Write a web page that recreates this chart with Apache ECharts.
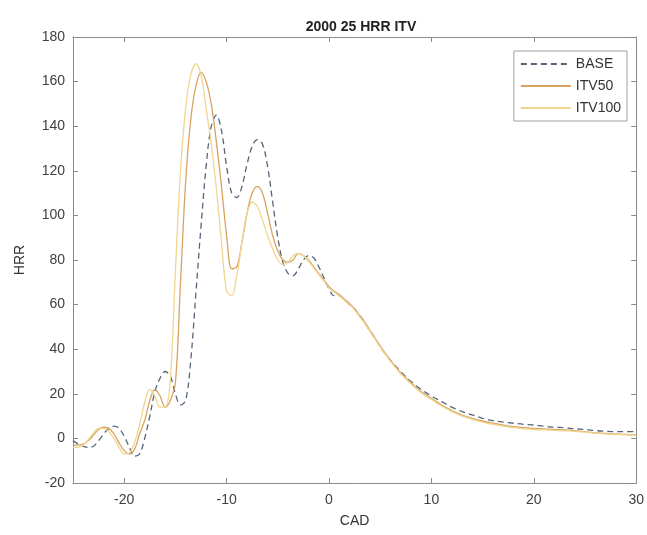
<!DOCTYPE html>
<html>
<head>
<meta charset="utf-8">
<script src="https://cdn.jsdelivr.net/npm/echarts@6/dist/echarts.min.js"></script>
<style>
html,body{margin:0;padding:0;background:#fff;}
#chart{width:647px;height:535px;}
</style>
</head>
<body>
<div id="chart"></div>
<script>
const cad = [-25,-24.5,-24,-23.5,-23,-22.5,-22,-21.5,-21,-20.5,-20,-19.5,-19,-18.5,-18,-17.5,-17,-16.5,-16,-15.5,-15,-14.5,-14,-13.5,-13,-12.5,-12,-11.5,-11,-10.5,-10,-9.5,-9,-8.5,-8,-7.5,-7,-6.5,-6,-5.5,-5,-4.5,-4,-3.5,-3,-2.5,-2,-1.5,-1,-0.5,0,0.5,1,1.5,2,2.5,3,3.5,4,4.5,5,6,7,8,9,10,11,12,13,14,15,16,17,18,19,20,21,22,23,24,25,26,27,28,29,30];

const hrrBase = [-1,-2.5,-3.5,-4,-3.5,-1,2,4.5,5.5,4.5,1,-4,-8,-7,0,10,21,27,30,28,20,15,17,35,65,95,122,140,145,138,122,110,108,113,123,131,134,132,122,106,90,79,74,73,76,80,82,81,77,72,67,64,64,62,60,58,55,52,48,45,41,35,30,25.5,22,19,16.5,14,12,10.5,9,8,7.3,6.8,6.3,6,5.5,5,4.8,4.3,4,3.5,3.2,3,3,3];

const hrrItv50 = [-3,-3,-2.5,-1,1.5,4,5,4.5,2,-2,-5.5,-7,-5,2,8,17,22,19,14,17,25,70,115,143,158,164,160,150,133,113,91,76,77,88,101,110,113,110,101,91,84,80,79,80,83,82,80,77,74,71,68,66,64.5,62.5,60.5,58,55,52,48.5,45,41.5,35,29.5,25,21,18,15,12.5,10.5,9,7.8,6.8,6,5.3,4.8,4.5,4.3,4,3.8,3.5,3,2.5,2.2,2,1.8,1.5];

const hrrItv100 = [-4,-4,-3,-0.5,2.5,4.5,4.5,3,0,-4,-7,-6.5,-2,6,16,22,19,14,14,26,75,120,148,163,168,163,148,132,112,88,66,64,73,88,101,106,104,98,91,85,80,78,79,82,83,82,79.5,76.5,73.5,70.5,67.5,65.5,64,62,60,57.5,54.5,51.5,48,44.5,41,34.5,29,24.5,20.5,17.5,14.5,12,10,8.5,7.3,6.3,5.5,4.8,4.3,4,3.8,3.6,3.4,3.2,2.8,2.4,2,1.8,1.6,1.4];

const seriesNames = ['BASE','ITV50','ITV100'];
const xTicks = [-20,-10,0,10,20,30];

function pairs(ys){ return cad.map((x,i)=>[x,ys[i]]); }

const axisColor = '#8a8a8a';
const labelColor = '#404040';
const font = 'Liberation Sans, Arial, sans-serif';

const chart = echarts.init(document.getElementById('chart'));
chart.setOption({
  backgroundColor:'#fff',
  animation:false,
  title:{text:'2000 25 HRR ITV',left:356,top:15,textAlign:'center',
    textStyle:{fontFamily:font,fontSize:14,fontWeight:'bold',color:'#222'}},
  legend:{
    data:seriesNames, orient:'vertical', right:20, top:51,
    backgroundColor:'#fff', borderColor:'#a0a0a0', borderWidth:1, borderRadius:0,
    padding:[6,6,6,6], itemWidth:50, itemHeight:14, itemGap:8,
    itemStyle:{opacity:0},
    textStyle:{fontFamily:font,fontSize:14,color:'#333'}
  },
  grid:{left:73,right:8,top:37,bottom:52},
  xAxis:[{
    type:'value', min:-25, max:30, interval:5,
    name:'CAD', nameLocation:'middle', nameGap:31,
    nameTextStyle:{fontFamily:font,fontSize:14,color:'#333'},
    axisLine:{show:true,onZero:false,lineStyle:{color:axisColor,width:1}},
    axisTick:{show:true,inside:true,length:5,lineStyle:{color:axisColor},
      customValues:xTicks},
    axisLabel:{fontFamily:font,fontSize:14,color:labelColor,margin:10,
      customValues:xTicks},
    splitLine:{show:false}
  },{
    type:'value', min:-25, max:30, position:'top',
    axisLine:{show:true,onZero:false,lineStyle:{color:axisColor,width:1}},
    axisTick:{show:true,inside:true,length:5,lineStyle:{color:axisColor},customValues:xTicks},
    axisLabel:{show:false}, splitLine:{show:false}
  }],
  yAxis:[{
    type:'value', min:-20, max:180, interval:20,
    name:'HRR', nameLocation:'middle', nameGap:46, nameRotate:90,
    nameTextStyle:{fontFamily:font,fontSize:14,color:'#333'},
    axisLine:{show:true,onZero:false,lineStyle:{color:axisColor,width:1}},
    axisTick:{show:true,inside:true,length:5,lineStyle:{color:axisColor}},
    axisLabel:{fontFamily:font,fontSize:14,color:labelColor,margin:8},
    splitLine:{show:false}
  },{
    type:'value', min:-20, max:180, interval:20, position:'right',
    axisLine:{show:true,onZero:false,lineStyle:{color:axisColor,width:1}},
    axisTick:{show:true,inside:true,length:5,lineStyle:{color:axisColor}},
    axisLabel:{show:false}, splitLine:{show:false}
  }],
  series:[
    {name:'BASE',type:'line',data:pairs(hrrBase),symbol:'none',smooth:0.35,
      color:'#56657a',lineStyle:{color:'#56657a',width:1.3,type:[6,4]}},
    {name:'ITV50',type:'line',data:pairs(hrrItv50),symbol:'none',smooth:0.35,
      color:'#d9a262',lineStyle:{color:'#d9a262',width:1.3}},
    {name:'ITV100',type:'line',data:pairs(hrrItv100),symbol:'none',smooth:0.35,
      color:'#efd58e',lineStyle:{color:'#efd58e',width:1.3}}
  ]
});
</script>
</body>
</html>
